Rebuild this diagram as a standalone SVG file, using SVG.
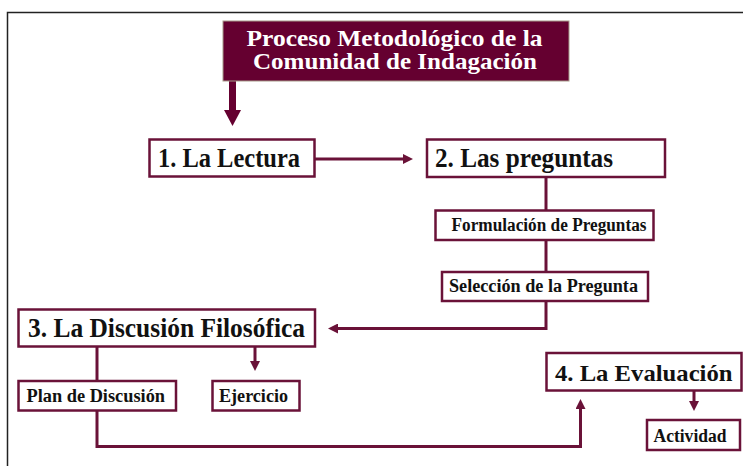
<svg xmlns="http://www.w3.org/2000/svg" width="743" height="466" viewBox="0 0 743 466">
  <style>
    .box { fill: #ffffff; stroke: #6a1238; stroke-width: 2.5; }
    .title { fill: #650030; stroke: #a89a8a; stroke-width: 1; }
    .tt { font-family: "Liberation Serif", "DejaVu Serif", serif; font-weight: bold; fill: #ffffff; font-size: 23px; }
    .big { font-family: "Liberation Serif", "DejaVu Serif", serif; font-weight: bold; fill: #111111; font-size: 27px; }
    .small { font-family: "Liberation Serif", "DejaVu Serif", serif; font-weight: bold; fill: #111111; font-size: 18px; }
    .conn { fill: none; stroke: #6a1238; stroke-width: 3; stroke-linejoin: miter; }
    .frame { fill: none; stroke: #222222; stroke-width: 1.5; }
  </style>
  <defs>
    <marker id="ah" viewBox="0 0 10 10" refX="0" refY="5" markerWidth="10" markerHeight="10" markerUnits="userSpaceOnUse" orient="auto">
      <path d="M0,0 L10,5 L0,10 z" fill="#6a1238"/>
    </marker>
    <marker id="ahBig" viewBox="0 0 16 17" refX="0" refY="8.5" markerWidth="16" markerHeight="17" markerUnits="userSpaceOnUse" orient="auto">
      <path d="M0,0 L16,8.5 L0,17 z" fill="#650030"/>
    </marker>
  </defs>
  <rect width="743" height="466" fill="#ffffff"/>
  <path class="frame" d="M7.5,466 L7.5,12.5 L743,12.5"/>

  <g id="connectors">
    <path d="M232.5,81 L232.5,110" fill="none" stroke="#650030" stroke-width="7" marker-end="url(#ahBig)"/>
    <path class="conn" d="M315,159 L403,159" marker-end="url(#ah)"/>
    <path class="conn" d="M546,177 L546,210"/>
    <path class="conn" d="M546,240 L546,272"/>
    <path class="conn" d="M546,301 L546,328.5 L338,328.5" marker-end="url(#ah)"/>
    <path class="conn" d="M255,347 L255,361" marker-end="url(#ah)"/>
    <path class="conn" d="M97,347 L97,381"/>
    <path class="conn" d="M97,410 L97,446.5 L580.5,446.5 L580.5,409" marker-end="url(#ah)"/>
    <path class="conn" d="M694,391 L694,401" marker-end="url(#ah)"/>
  </g>

  <g id="title">
    <rect class="title" x="223" y="21" width="346" height="60"/>
    <text class="tt" x="246.5" y="46" textLength="296" lengthAdjust="spacingAndGlyphs">Proceso Metodológico de la</text>
    <text class="tt" x="253" y="69" textLength="284" lengthAdjust="spacingAndGlyphs">Comunidad de Indagación</text>
  </g>

  <g id="n1">
    <rect class="box" x="149.5" y="139.5" width="165" height="37"/>
    <text class="big" x="158" y="167" textLength="142" lengthAdjust="spacingAndGlyphs">1. La Lectura</text>
  </g>

  <g id="n2">
    <rect class="box" x="427" y="139.5" width="238" height="37.5"/>
    <text class="big" x="435" y="167" textLength="178" lengthAdjust="spacingAndGlyphs">2. Las preguntas</text>
  </g>

  <g id="n2a">
    <rect class="box" x="435.5" y="210.5" width="218" height="29.5"/>
    <text class="small" x="451.5" y="231" textLength="195" lengthAdjust="spacingAndGlyphs">Formulación de Preguntas</text>
  </g>

  <g id="n2b">
    <rect class="box" x="442" y="272" width="206" height="29"/>
    <text class="small" x="449" y="292" textLength="189" lengthAdjust="spacingAndGlyphs">Selección de la Pregunta</text>
  </g>

  <g id="n3">
    <rect class="box" x="18.5" y="309.5" width="296.5" height="37"/>
    <text class="big" x="28" y="337" textLength="277" lengthAdjust="spacingAndGlyphs">3. La Discusión Filosófica</text>
  </g>

  <g id="n3a">
    <rect class="box" x="18.5" y="381" width="157.5" height="29.5"/>
    <text class="small" x="26.5" y="402" textLength="138.5" lengthAdjust="spacingAndGlyphs">Plan de Discusión</text>
  </g>

  <g id="n3b">
    <rect class="box" x="212.5" y="381" width="87" height="29.5"/>
    <text class="small" x="219" y="402" textLength="69" lengthAdjust="spacingAndGlyphs">Ejercicio</text>
  </g>

  <g id="n4">
    <rect class="box" x="546.5" y="353" width="195" height="37.5"/>
    <text class="big" x="555" y="380.5" font-size="24" textLength="177.5" lengthAdjust="spacingAndGlyphs" style="font-size:24px">4. La Evaluación</text>
  </g>

  <g id="n4a">
    <rect class="box" x="647" y="420" width="93" height="30"/>
    <text class="small" x="653.5" y="442" textLength="73" lengthAdjust="spacingAndGlyphs">Actividad</text>
  </g>
</svg>
